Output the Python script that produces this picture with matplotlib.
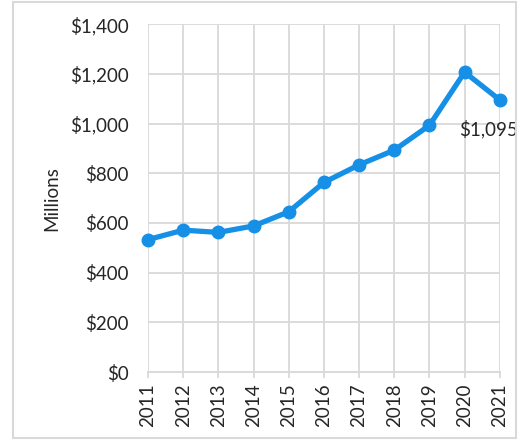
import matplotlib

matplotlib.use("Agg")
import matplotlib.pyplot as plt
from matplotlib.patches import Rectangle
from matplotlib.ticker import FuncFormatter, MultipleLocator

years = [2011, 2012, 2013, 2014, 2015, 2016, 2017, 2018, 2019, 2020, 2021]
values = [533, 571, 562, 588, 645, 763, 834, 893, 993, 1207, 1095]
last_label = "$1,095"

LINE_BLUE = "#1590E6"
GRID_GRAY = "#D9D9D9"
TEXT_COLOR = "#262626"
FONT_SIZE = 13.5

plt.rcParams["font.family"] = ["Lato", "DejaVu Sans"]

fig = plt.figure(figsize=(5.25, 4.4), dpi=100)
ax = fig.add_axes([0.282, 0.1545, 0.67, 0.7905])

ax.plot(years, values, color=LINE_BLUE, linewidth=3.8, marker="o",
        markersize=9, solid_capstyle="round", zorder=3, clip_on=False)

ax.set_xlim(years[0], years[-1])
ax.set_ylim(0, 1400)
ax.yaxis.set_major_locator(MultipleLocator(200))
ax.yaxis.set_major_formatter(FuncFormatter(lambda v, _: f"${v:,.0f}"))
ax.set_xticks(years)
ax.set_xticklabels([str(y) for y in years], rotation=90)

ax.grid(True, color=GRID_GRAY, linewidth=1.3)
ax.set_axisbelow(True)
for side in ("top", "right", "left"):
    ax.spines[side].set_visible(False)
ax.spines["bottom"].set_color(GRID_GRAY)
ax.spines["bottom"].set_linewidth(1.3)
ax.tick_params(axis="y", length=0, pad=14, labelsize=FONT_SIZE, colors=TEXT_COLOR)
ax.tick_params(axis="x", length=4, width=1.3, color=GRID_GRAY, pad=4,
               labelsize=FONT_SIZE, colors=TEXT_COLOR)

ax.set_ylabel("Millions", fontsize=FONT_SIZE, color=TEXT_COLOR, labelpad=7)

ax.annotate(last_label, (years[-1], values[-1]), xytext=(-8, -21),
            textcoords="offset points", ha="center", va="center",
            fontsize=FONT_SIZE, color=TEXT_COLOR, annotation_clip=False)

fig.patches.append(Rectangle((13 / 525, 2 / 440), 503 / 525, 436 / 440,
                             transform=fig.transFigure, fill=False,
                             edgecolor=GRID_GRAY, linewidth=1.5))

fig.savefig("out.png", dpi=100)
